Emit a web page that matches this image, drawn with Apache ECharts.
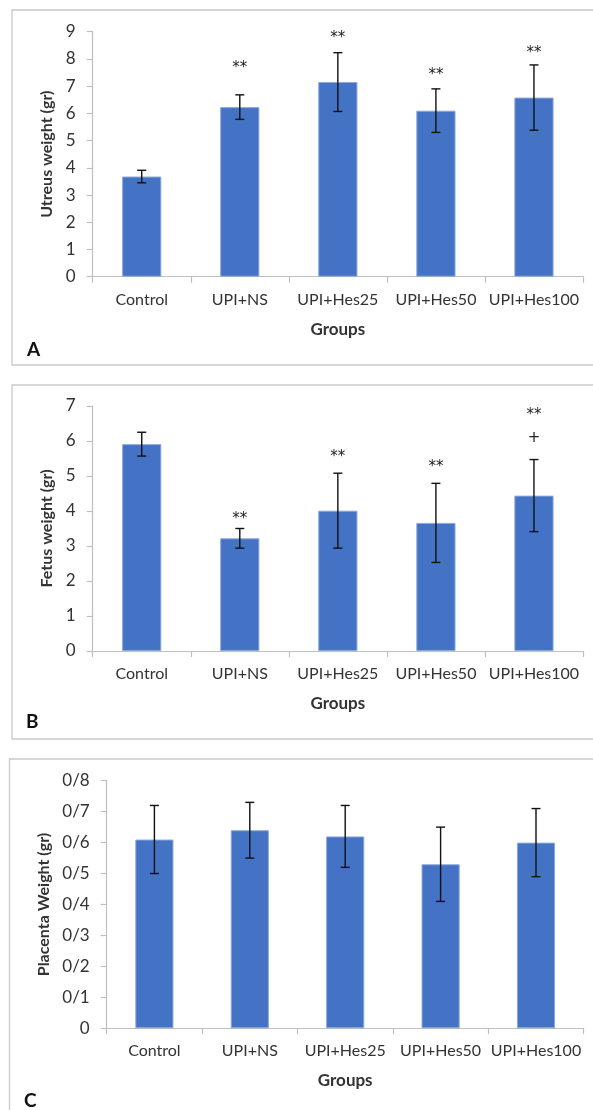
<!DOCTYPE html>
<html>
<head>
<meta charset="utf-8">
<script src="https://cdn.jsdelivr.net/npm/echarts@6/dist/echarts.min.js"></script>
<style>
  html, body { margin: 0; background: #fff; }
  #chart { width: 593px; height: 1110px; }
</style>
</head>
<body>
<div id="chart"></div>
<script>
// data (mean ± error bar)
const groups = ['Control', 'UPI+NS', 'UPI+Hes25', 'UPI+Hes50', 'UPI+Hes100'];

const uterusMean = [3.68, 6.23, 7.15, 6.10, 6.58];
const uterusErr  = [0.23, 0.45, 1.08, 0.80, 1.20];
const uterusSig  = ['', '**', '**', '**', '**'];
const uterusSigY = [null, 7.80, 8.90, 7.55, 8.35];

const fetusMean = [5.91, 3.22, 4.01, 3.66, 4.44];
const fetusErr  = [0.34, 0.28, 1.07, 1.13, 1.03];
const fetusSig  = ['', '**', '**', '**', '**'];
const fetusSigY = [null, 3.87, 5.65, 5.36, 6.84];
const fetusPlus  = ['', '', '', '', '+'];
const fetusPlusY = [null, null, null, null, 6.07];

const placentaMean  = [0.61, 0.64, 0.62, 0.53, 0.60];
const placentaErr   = [0.11, 0.09, 0.10, 0.12, 0.11];
const placentaTicks = ['0', '0/1', '0/2', '0/3', '0/4', '0/5', '0/6', '0/7', '0/8'];

const FONT = 'Lato';
const AXIS_GREY = '#bfbfbf';
const TEXT = '#333';
const BAR = '#4472C4';

const panels = [
  { grid: { left: 92.7, top: 31.7, width: 490.3, height: 245 },
    yName: 'Utreus weight (gr)', max: 9, interval: 1, nameGap: 34,
    mean: uterusMean, err: uterusErr,
    marks: [[uterusSig, uterusSigY]] },
  { grid: { left: 92.7, top: 406, width: 490.3, height: 245 },
    yName: 'Fetus weight (gr)', max: 7, interval: 1, nameGap: 34,
    mean: fetusMean, err: fetusErr,
    marks: [[fetusSig, fetusSigY], [fetusPlus, fetusPlusY]] },
  { grid: { left: 106.7, top: 780.7, width: 477, height: 247.6 },
    yName: 'Placenta Weight (gr)', max: 0.8, interval: 0.1, nameGap: 49,
    mean: placentaMean, err: placentaErr, ticks: placentaTicks,
    marks: [] },
];

const grid = [], xAxis = [], yAxis = [], series = [];

panels.forEach((p, k) => {
  grid.push(p.grid);
  xAxis.push({
    type: 'category', gridIndex: k, data: groups,
    name: 'Groups', nameLocation: 'middle', nameGap: 44,
    nameTextStyle: { fontFamily: FONT, fontWeight: 'bold', fontSize: 17, color: TEXT, verticalAlign: 'top' },
    axisLine: { lineStyle: { color: AXIS_GREY, width: 1.2 } },
    axisTick: { show: true, length: 6, lineStyle: { color: AXIS_GREY, width: 1.2 } },
    axisLabel: { fontFamily: FONT, fontSize: 16, color: TEXT, margin: 15, interval: 0 },
  });
  yAxis.push({
    type: 'value', gridIndex: k, min: 0, max: p.max, interval: p.interval,
    name: p.yName, nameLocation: 'middle', nameGap: p.nameGap,
    nameTextStyle: { fontFamily: FONT, fontWeight: 'bold', fontSize: 16, color: TEXT },
    axisLine: { show: true, lineStyle: { color: AXIS_GREY, width: 1.2 } },
    axisTick: { show: true, length: 6, lineStyle: { color: AXIS_GREY, width: 1.2 } },
    splitLine: { show: false },
    axisLabel: {
      fontFamily: FONT, fontSize: 17, color: TEXT, margin: 17,
      formatter: p.ticks ? (v => p.ticks[Math.round(v / p.interval)]) : (v => String(v)),
    },
  });

  series.push({
    type: 'bar', xAxisIndex: k, yAxisIndex: k, data: p.mean, barWidth: '40%',
    itemStyle: { color: BAR, borderColor: '#8eaadb', borderWidth: 1 },
    silent: true,
  });

  series.push({
    type: 'custom', xAxisIndex: k, yAxisIndex: k, silent: true, z: 5,
    data: p.mean.map((m, i) => [i, m - p.err[i], m + p.err[i]]),
    encode: { x: 0, y: [1, 2] },
    renderItem: (params, api) => {
      const lo = api.coord([api.value(0), api.value(1)]);
      const hi = api.coord([api.value(0), api.value(2)]);
      const w = 4.5;
      const st = { stroke: '#111', lineWidth: 1.4 };
      return {
        type: 'group',
        children: [
          { type: 'line', shape: { x1: hi[0], y1: hi[1], x2: lo[0], y2: lo[1] }, style: st },
          { type: 'line', shape: { x1: hi[0] - w, y1: hi[1], x2: hi[0] + w, y2: hi[1] }, style: st },
          { type: 'line', shape: { x1: lo[0] - w, y1: lo[1], x2: lo[0] + w, y2: lo[1] }, style: st },
        ],
      };
    },
  });

  // significance marks, drawn as text at their value positions
  p.marks.forEach(([txt, ys]) => {
    series.push({
      type: 'custom', xAxisIndex: k, yAxisIndex: k, silent: true, z: 6,
      data: ys.map((y, i) => [i, y]).filter(d => d[1] != null),
      encode: { x: 0, y: 1 },
      renderItem: (params, api) => {
        const pt = api.coord([api.value(0), api.value(1)]);
        const i = api.value(0);
        const t = txt[i];
        return {
          type: 'text', x: pt[0], y: pt[1] + (t === '**' ? 4 : 0),
          style: {
            text: t, fontFamily: 'DejaVu Sans', fontSize: 15, fill: '#222',
            align: 'center', verticalAlign: 'middle',
          },
        };
      },
    });
  });
});

const box = (x, y, w, h) => ({
  type: 'rect', shape: { x, y, width: w, height: h },
  style: { fill: 'none', stroke: '#c9c9c9', lineWidth: 1.3 }, silent: true,
});
const letter = (t, x, y) => ({
  type: 'text', x, y, silent: true,
  style: { text: t, fontFamily: FONT, fontWeight: 'bold', fontSize: 19, fill: '#111', verticalAlign: 'middle' },
});

const chart = echarts.init(document.getElementById('chart'), null, { renderer: 'canvas' });
chart.setOption({
  animation: false,
  grid, xAxis, yAxis, series,
  graphic: [
    box(12, 10, 600, 355),
    box(12, 385, 600, 354),
    box(9.5, 759, 600, 400),
    letter('A', 27, 350),
    letter('B', 26, 722),
    letter('C', 24, 1101),
  ],
});
</script>
</body>
</html>
